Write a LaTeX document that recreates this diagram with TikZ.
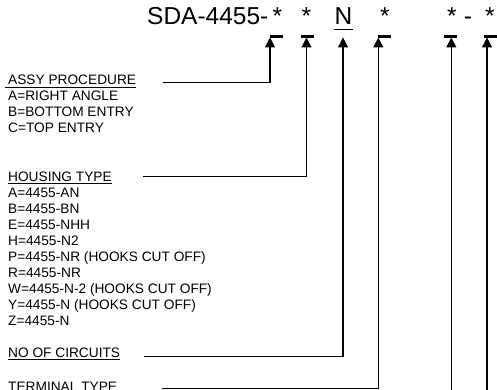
\documentclass[tikz,border=0pt]{standalone}
\usepackage{fontspec}
\setmainfont{Liberation Sans}
\usetikzlibrary{arrows.meta,calc}
\begin{document}
\begin{tikzpicture}[x=1pt,y=-1pt,
  lbl/.style={font=\fontsize{13.7}{16}\selectfont, inner sep=0pt, anchor=base west},
  ttl/.style={font=\fontsize{24.5}{28}\selectfont, inner sep=0pt, anchor=base},
  uline/.style={line width=0.9pt},
  arr/.style={-{Triangle[length=10pt,width=10pt]}, line width=1.1pt},
  fieldbar/.style={line width=2.6pt}]
\useasboundingbox (0,0) rectangle (497,390);

% part number
\node[ttl, anchor=base west] (code) at (147,25) {SDA-4455-};
\node[ttl] (f1) at (277.5,25) {*};
\node[ttl] (f2) at (306.5,25) {*};
\node[ttl] (f3) at (343.5,25) {N};
\node[ttl] (f4) at (385,25) {*};
\node[ttl] (f5) at (452,25) {*};
\node[ttl] (dash) at (468,25) {-};
\node[ttl] (f6) at (490,25) {*};
\draw[line width=1.3pt] ([yshift=-4.3pt]f3.base west) -- ([yshift=-4.3pt]f3.base east);

% bars under the fields
\foreach \f/\c in {f1/276.5, f2/307.5, f4/384, f5/450.5, f6/490}
  \draw[fieldbar] (\c-6.5,36.3) -- (\c+6.5,36.3);

% arrow tips
\coordinate (t1) at (270,37.5);
\coordinate (t2) at (306.5,37.5);
\coordinate (t3) at (343,37.5);
\coordinate (t4) at (378.3,37.5);
\coordinate (t5) at (451.3,37.5);
\coordinate (t6) at (487,37.5);

% labels
\node[lbl] (assy) at (8,85) {ASSY PROCEDURE};
\draw[uline] ([xshift=-3pt,yshift=-2pt]assy.base west) -- ([yshift=-2pt]assy.base east);
\node[lbl] (assyA) at (8,101) {A=RIGHT ANGLE};
\node[lbl] (assyB) at (8,117) {B=BOTTOM ENTRY};
\node[lbl] (assyC) at (8,133) {C=TOP ENTRY};

\node[lbl] (housing) at (8,181) {HOUSING TYPE};
\draw[uline] ([yshift=-2pt]housing.base west) -- ([yshift=-2pt]housing.base east);
\foreach \t [count=\i] in {{A=4455-AN},{B=4455-BN},{E=4455-NHH},{H=4455-N2},{P=4455-NR (HOOKS CUT OFF)},{R=4455-NR},{W=4455-N-2 (HOOKS CUT OFF)},{Y=4455-N (HOOKS CUT OFF)},{Z=4455-N}}
  \node[lbl] (hs\i) at (8,{181+16*\i}) {\t};

\node[lbl] (circuits) at (8,357) {NO OF CIRCUITS};
\draw[uline] ([yshift=-2pt]circuits.base west) -- ([yshift=-2pt]circuits.base east);
\node[lbl] (terminal) at (8,391) {TERMINAL TYPE};

% connector starts
\coordinate (s1) at (163,82.3);
\coordinate (s2) at (143,176.5);
\coordinate (s3) at (144,356.7);
\coordinate (s4) at (162,388.7);
\coordinate (e5) at (451.3,395);
\coordinate (e6) at (487,395);

\draw[arr] (s1) -| (t1);
\draw[arr] (s2) -| (t2);
\draw[arr] (s3) -| (t3);
\draw[arr] (s4) -| (t4);
\draw[arr] (e5) -- (t5);
\draw[arr] (e6) -- (t6);
\end{tikzpicture}
\end{document}
